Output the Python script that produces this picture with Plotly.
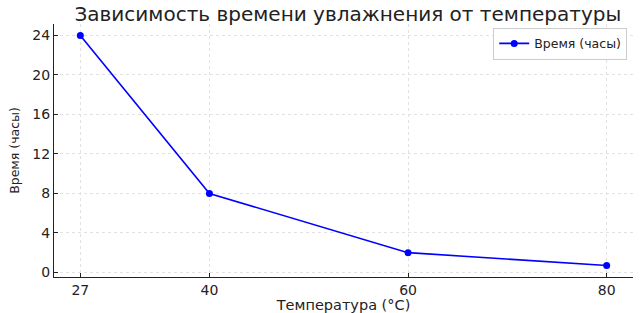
import plotly.graph_objects as go

temperature = [27, 40, 60, 80]
hours = [24, 8, 2, 0.7]
x_ticks = [27, 40, 60, 80]
y_ticks = [0, 4, 8, 12, 16, 20, 24]

fig = go.Figure()
fig.add_trace(go.Scatter(
    x=temperature, y=hours, mode="lines+markers", name="Время (часы)",
    line=dict(color="#0000ff", width=1.6),
    marker=dict(color="#0000ff", size=7),
))

grid = dict(showgrid=True, gridcolor="#e2e2e2", griddash="3px,3px", gridwidth=0.8,
            showline=True, linecolor="#222222", linewidth=1.3,
            ticks="inside", ticklen=4, tickcolor="#222222", zeroline=False,
            automargin=False,
            tickfont=dict(family="DejaVu Sans", size=14, color="#222222"))

fig.update_layout(
    width=643, height=313,
    margin=dict(l=54, r=10, t=24, b=36),
    paper_bgcolor="white", plot_bgcolor="white",
    title=dict(text="Зависимость времени увлажнения от температуры",
               x=0.541, xanchor="center", y=0.955, yanchor="middle",
               font=dict(family="DejaVu Sans", size=20, color="#222222")),
    xaxis=dict(range=[24.35, 82.65], tickvals=x_ticks,
               title=dict(text="Температура (°C)", standoff=0,
                          font=dict(family="DejaVu Sans", size=14.5, color="#222222")),
               **grid),
    yaxis=dict(range=[-0.465, 25.165], tickvals=y_ticks,
               title=dict(text="Время (часы)", standoff=9,
                          font=dict(family="DejaVu Sans", size=12.5, color="#222222")),
               **grid),
    legend=dict(x=0.99, y=0.985, xanchor="right", yanchor="top",
                bgcolor="rgba(255,255,255,0.9)", bordercolor="#cccccc", borderwidth=1,
                font=dict(family="DejaVu Sans", size=12.5, color="#222222")),
    showlegend=True,
)

fig.write_html("out.html")
